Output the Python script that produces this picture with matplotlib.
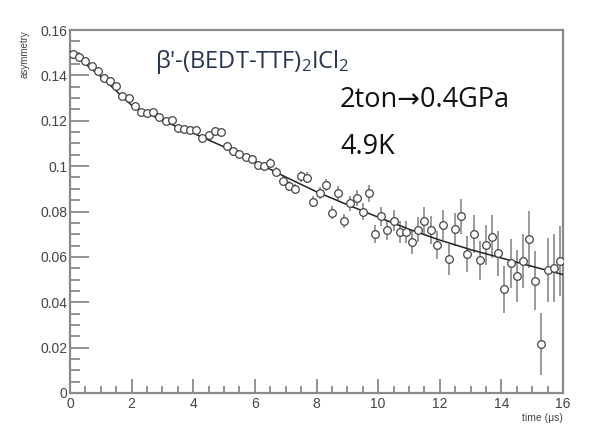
import numpy as np
import matplotlib.pyplot as plt
from matplotlib.ticker import MultipleLocator

plt.rcParams['mathtext.fontset'] = 'custom'
plt.rcParams['mathtext.rm'] = 'Open Sans'
plt.rcParams['mathtext.it'] = 'Open Sans'

# muSR data, time in microseconds
time = [0.1 + 0.2 * i for i in range(80)]
asym = [0.1495, 0.1482, 0.1465, 0.1440, 0.1418, 0.1390, 0.1375, 0.1352, 0.1310, 0.1300,
        0.1265, 0.1240, 0.1235, 0.1240, 0.1215, 0.1200, 0.1205, 0.1170, 0.1165, 0.1160,
        0.1160, 0.1125, 0.1135, 0.1155, 0.1150, 0.1090, 0.1065, 0.1055, 0.1040, 0.1030,
        0.1005, 0.1000, 0.1015, 0.0975, 0.0935, 0.0912, 0.0900, 0.0955, 0.0948, 0.0843,
        0.0880, 0.0917, 0.0795, 0.0880, 0.0758, 0.0836, 0.0858, 0.0800, 0.0880, 0.0699,
        0.0780, 0.0720, 0.0760, 0.0708, 0.0709, 0.0667, 0.0720, 0.0760, 0.0718, 0.0653,
        0.0740, 0.0589, 0.0721, 0.0778, 0.0611, 0.0701, 0.0586, 0.0652, 0.0689, 0.0615,
        0.0457, 0.0571, 0.0516, 0.0580, 0.0677, 0.0494, 0.0215, 0.0542, 0.0550, 0.0582]
err = [0.0005, 0.0005, 0.0005, 0.0006, 0.0006, 0.0006, 0.0006, 0.0007, 0.0007, 0.0007,
       0.0007, 0.0008, 0.0008, 0.0008, 0.0009, 0.0009, 0.0009, 0.0010, 0.0010, 0.0011,
       0.0011, 0.0012, 0.0012, 0.0013, 0.0013, 0.0014, 0.0014, 0.0015, 0.0016, 0.0016,
       0.0017, 0.0018, 0.0019, 0.0019, 0.0020, 0.0021, 0.0022, 0.0023, 0.0024, 0.0025,
       0.0027, 0.0028, 0.0029, 0.0031, 0.0032, 0.0033, 0.0035, 0.0037, 0.0038, 0.0040,
       0.0042, 0.0044, 0.0046, 0.0048, 0.0050, 0.0053, 0.0055, 0.0058, 0.0060, 0.0063,
       0.0066, 0.0069, 0.0072, 0.0075, 0.0079, 0.0083, 0.0086, 0.0090, 0.0095, 0.0099,
       0.0104, 0.0109, 0.0114, 0.0119, 0.0124, 0.0130, 0.0136, 0.0143, 0.0149, 0.0156]

# fitted curve
fit_t = [0, 1, 2, 3, 4, 5, 6, 7, 8, 9, 10, 11, 12, 13, 14, 15, 16]
fit_a = [0.1505, 0.1395, 0.1268, 0.1200, 0.1145, 0.1085, 0.1020, 0.0952, 0.0887,
         0.0830, 0.0775, 0.0722, 0.0674, 0.0632, 0.0595, 0.0558, 0.0522]

ytick_labels = ['0', '0.02', '0.04', '0.06', '0.08', '0.1', '0.12', '0.14', '0.16']

fig = plt.figure(figsize=(5.95, 4.30), dpi=100)
ax = fig.add_axes([70/595, 37/430, 493/595, 363/430])

gray = '#8a8a8a'
ax.errorbar(time, asym, yerr=err, fmt='none', ecolor='#9a9a9a', elinewidth=1.4, zorder=2)
ax.plot(fit_t, fit_a, color='#222222', lw=1.1, zorder=3)
ax.plot(time, asym, 'o', ms=5.5, mfc='white', mec='#444444', mew=0.9, zorder=4)

ax.set_xlim(0, 16)
ax.set_ylim(0, 0.16)
ax.xaxis.set_major_locator(MultipleLocator(2))
ax.xaxis.set_minor_locator(MultipleLocator(0.5))
ax.yaxis.set_minor_locator(MultipleLocator(0.005))
ax.set_yticks(np.arange(9) * 0.02)
ax.set_yticklabels(ytick_labels)

ax.tick_params(which='both', direction='in', color=gray, width=1.3,
               top=False, right=False, labelsize=10, labelcolor='#444444')
ax.tick_params(axis='y', which='major', length=14, pad=2)
ax.tick_params(axis='y', which='minor', length=7)
ax.tick_params(axis='x', which='major', length=10, pad=3)
ax.tick_params(axis='x', which='minor', length=5)
for lbl in ax.get_xticklabels() + ax.get_yticklabels():
    lbl.set_family('Liberation Sans')

for s in ax.spines.values():
    s.set_color(gray)
    s.set_linewidth(1.6)

fig.text(25/595, 1 - 30/430, 'asymmetry', rotation=90, ha='center', va='top',
         fontsize=7, color='#444444', family='Liberation Sans')
fig.text(563/595, 1 - 418/430, 'time (μs)', ha='right', va='center',
         fontsize=7.5, color='#444444', family='Liberation Sans')

fig.text(155/595, 1 - 62/430, "β'-(BEDT-TTF)$_2$ICl$_2$",
         ha='left', va='center', fontsize=17, color='#2a3550', family='Open Sans')
fig.text(340/595, 1 - 100/430, '2ton→0.4GPa',
         ha='left', va='center', fontsize=19.5, color='#111111',
         family=['Open Sans', 'DejaVu Sans'])
fig.text(340/595, 1 - 147/430, '4.9K',
         ha='left', va='center', fontsize=19.5, color='#111111', family='Open Sans')

fig.savefig('out.png', dpi=100)
